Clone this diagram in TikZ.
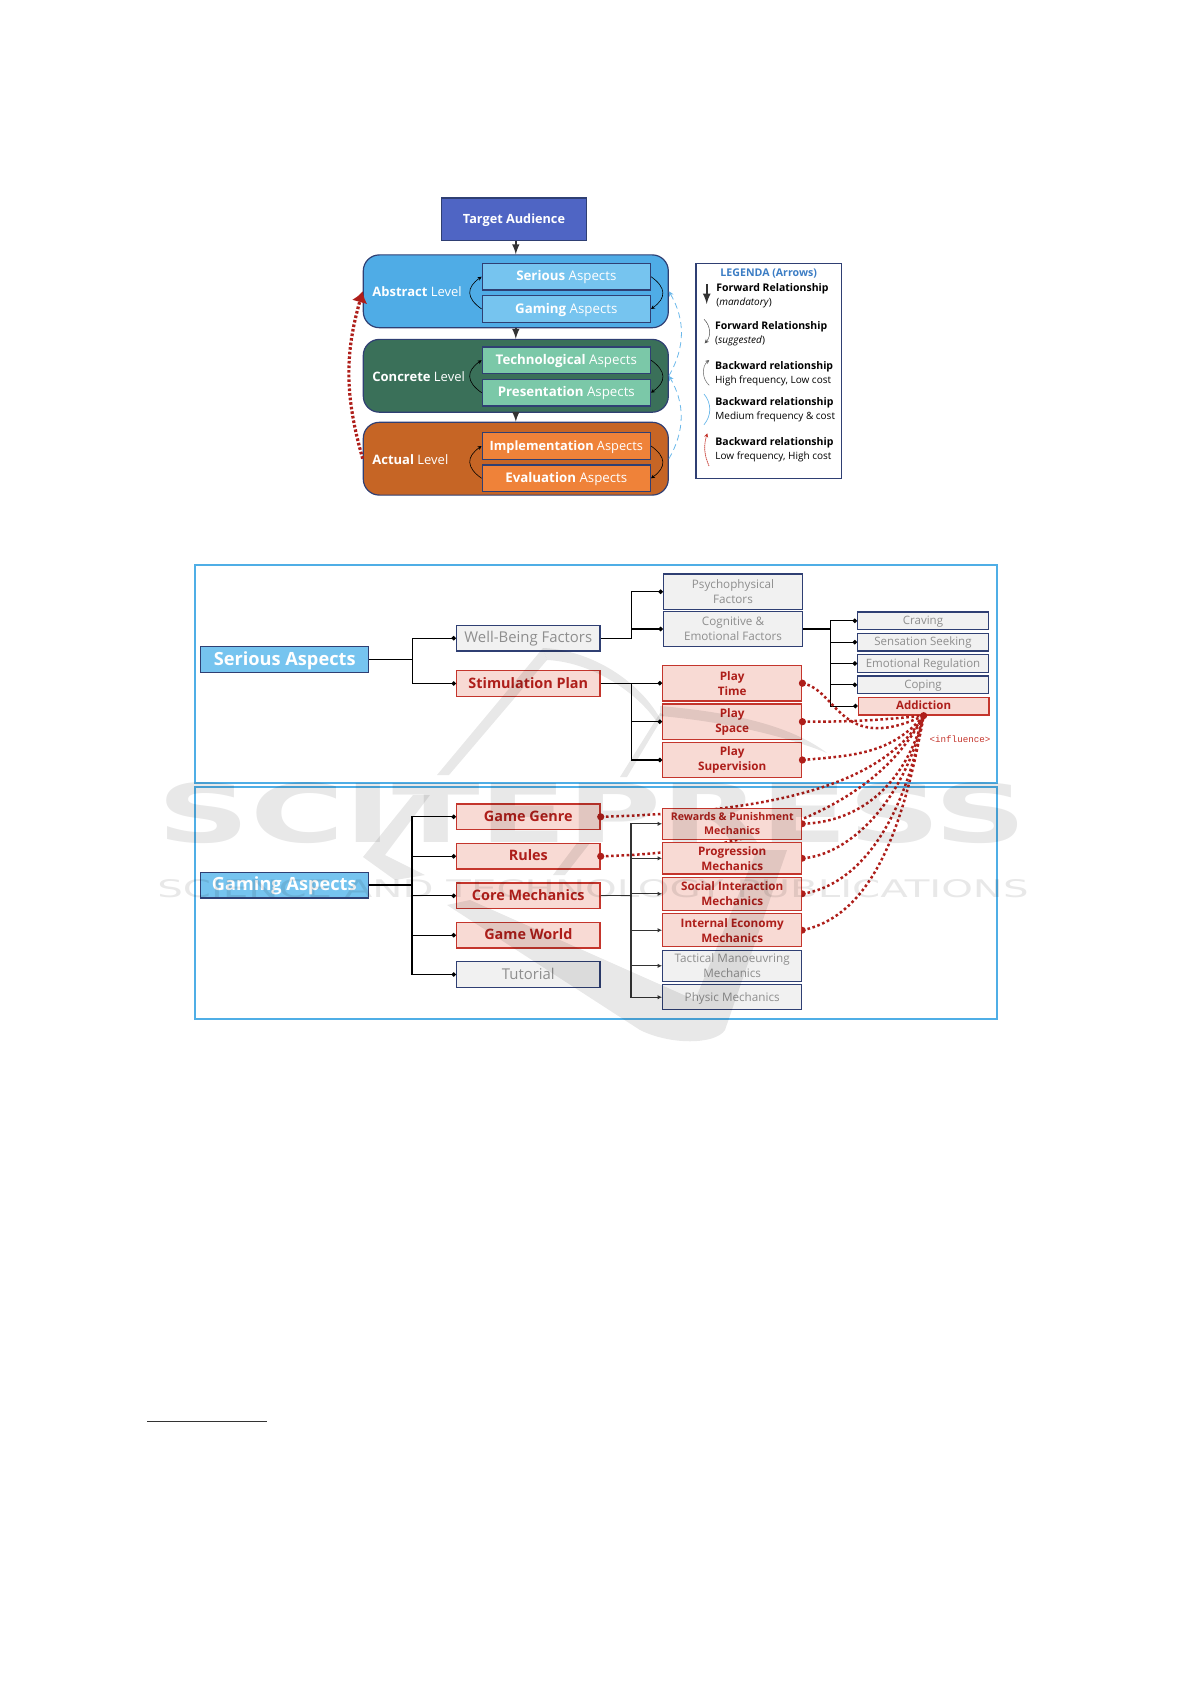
\documentclass[tikz,border=0pt]{standalone}
\usepackage{fontspec}
\setmainfont{Open Sans}
\setmonofont{Liberation Mono}
\newfontfamily\markfont{DejaVu Sans}
\usepackage{graphicx}
\usetikzlibrary{arrows.meta,backgrounds}

\definecolor{edgeBlue}{HTML}{2F3F73}
\definecolor{audFill}{HTML}{4F65C4}
\definecolor{absFill}{HTML}{4FACE6}
\definecolor{absSub}{HTML}{76C4EF}
\definecolor{conFill}{HTML}{3A7059}
\definecolor{conSub}{HTML}{7BC8A8}
\definecolor{actFill}{HTML}{C66525}
\definecolor{actSub}{HTML}{EF8239}
\definecolor{frameBlue}{HTML}{4FAEE6}
\definecolor{softBlue}{HTML}{6BB8EA}
\definecolor{legTitle}{HTML}{3C7DC4}
\definecolor{greyFill}{HTML}{F1F1F1}
\definecolor{greyText}{HTML}{8E8E8E}
\definecolor{redFill}{HTML}{F8DAD4}
\definecolor{redEdge}{HTML}{C4352C}
\definecolor{redText}{HTML}{AE1E1A}

\newcommand{\legBold}[1]{{\fontsize{5.25}{7}\selectfont\bfseries #1}}

\tikzset{
  levelBox/.style={draw=edgeBlue, line width=.6pt, rounded corners=8pt, minimum width=152.5pt, minimum height=36.4pt, inner sep=0pt},
  subBox/.style={draw=edgeBlue, line width=.7pt, minimum width=84pt, minimum height=13.3pt, inner sep=0pt, text=white, text height=5.6pt, text depth=1.4pt, font=\fontsize{6.65}{8}\selectfont},
  levelText/.style={anchor=west, inner sep=0pt, text=white, font=\fontsize{6.5}{8}\selectfont},
  legText/.style={anchor=west, inner sep=0pt, align=left, font=\fontsize{5}{7}\selectfont},
  headBox/.style={draw=edgeBlue, line width=.7pt, fill=absSub, minimum width=84pt, minimum height=12.8pt, inner sep=0pt, text=white, text height=7.6pt, text depth=1.9pt, font=\bfseries\fontsize{9.1}{11}\selectfont},
  greyBox/.style={draw=edgeBlue, line width=.7pt, fill=greyFill, inner sep=0pt, align=center, text=greyText},
  redBox/.style={draw=redEdge, line width=.7pt, fill=redFill, inner sep=0pt, align=center, text=redText},
  colTwo/.style={minimum width=71.7pt, minimum height=12.85pt, text height=6pt, text depth=1.5pt, font=\fontsize{7.2}{9}\selectfont},
  colThree/.style={minimum width=69.5pt, execute at begin node={\rule{0pt}{.95em}}, font=\fontsize{5.85}{7.5}\selectfont},
  colFour/.style={minimum width=65.3pt, minimum height=8.85pt, text height=4.8pt, text depth=1.2pt, font=\fontsize{5.75}{7}\selectfont},
  frameBox/.style={draw=frameBlue, line width=1pt, minimum width=400.7pt, inner sep=0pt},
  treeLine/.style={-{Circle[length=2.2pt]}, draw=black, line width=.6pt},
  mechLine/.style={-{Latex[length=2.2pt,width=2.2pt]}, draw=black!80, line width=.6pt},
  loopLine/.style={-{Stealth[length=2pt,width=2pt]}, draw=black, line width=.3pt, bend left=55, looseness=1.5},
  downLine/.style={->,>=latex, draw=black!80, line width=.7pt},
  backLine/.style={-{Stealth[length=2.5pt,width=2.5pt]}, softBlue, line width=.4pt, densely dashed, bend right=30},
  inflLine/.style={draw=redText, line width=1.25pt, dash pattern=on 1.3pt off 1.3pt},
  inflDot/.style={fill=redText},
  markShape/.style={fill=black, opacity=.09},
}

\begin{document}
\begin{tikzpicture}[x=0.5pt,y=-0.5pt]
\useasboundingbox (0,0) rectangle (1191,1684);

% Level diagram
\node [draw=edgeBlue, line width=.7pt, fill=audFill, minimum width=72.7pt, minimum height=21.2pt, inner sep=0pt, text=white, text height=5.4pt, text depth=1.35pt, font=\bfseries\fontsize{6.35}{7.5}\selectfont] (audBox) at (514,219.2) {Target Audience};

\node [levelBox, fill=absFill] (absBox) at (515.8,291.3) {};
\node [levelBox, fill=conFill] (conBox) at (515.8,375.8) {};
\node [levelBox, fill=actFill] (actBox) at (515.8,458.7) {};

\node [levelText] (absText) at (372,291.7) {\textbf{Abstract} Level};
\node [levelText] (conText) at (372,376.5) {\textbf{Concrete} Level};
\node [levelText] (actText) at (372,459.5) {\textbf{Actual} Level};

\node [subBox, fill=absSub] (serSub) at (566.3,276.7) {\textbf{Serious} Aspects};
\node [subBox, fill=absSub] (gamSub) at (566.3,309) {\textbf{Gaming} Aspects};
\node [subBox, fill=conSub] (tecSub) at (566.3,360.2) {\textbf{Technological} Aspects};
\node [subBox, fill=conSub] (preSub) at (566.3,392.7) {\textbf{Presentation} Aspects};
\node [subBox, fill=actSub, font=\fontsize{6.4}{8}\selectfont] (impSub) at (566.3,446) {\textbf{Implementation} Aspects};
\node [subBox, fill=actSub] (evaSub) at (566.3,478.3) {\textbf{Evaluation} Aspects};

\draw [downLine] (audBox.south -| absBox.north) -- (absBox.north);
\draw [downLine] (absBox.south) -- (conBox.north);
\draw [downLine] (conBox.south) -- (actBox.north);

% Small bends beside the aspects
\draw [loopLine] (gamSub.west) to (serSub.west);
\draw [loopLine] (serSub.east) to (gamSub.east);
\draw [loopLine] (preSub.west) to (tecSub.west);
\draw [loopLine] (tecSub.east) to (preSub.east);
\draw [loopLine] (evaSub.west) to (impSub.west);
\draw [loopLine] (impSub.east) to (evaSub.east);

% Backward arrows
\draw [backLine] (actBox.east) to (conBox.east);
\draw [backLine] (conBox.east) to (absBox.east);
\draw [-{Latex[length=5.5pt,width=8pt]}, redText, line width=1.6pt, dash pattern=on 1.3pt off 1pt] (actBox.west) to [bend left=16] (absBox.west);

% Legend
\node [draw=edgeBlue, line width=.6pt, minimum width=72.7pt, minimum height=107.5pt, inner sep=0pt] (legBox) at (768.7,370.8) {};
\node [inner sep=0pt, text=legTitle, font=\bfseries\fontsize{5.3}{7}\selectfont] (legHead) at (768.7,273.7) {LEGENDA (Arrows)};
\node [legText] (legOne) at (716,295.6) {\legBold{Forward Relationship}\\(\textit{mandatory})};
\node [legText] (legTwo) at (714.7,333.6) {\legBold{Forward Relationship}\\(\textit{suggested})};
\node [legText] (legThree) at (714.7,373.7) {\legBold{Backward relationship}\\High frequency, Low cost};
\node [legText] (legFour) at (715,409.7) {\legBold{Backward relationship}\\Medium frequency \& cost};
\node [legText] (legFive) at (715,449.9) {\legBold{Backward relationship}\\Low frequency, High cost};

\coordinate (oneTop) at (706.7,284);
\coordinate (oneEnd) at (706.7,304);
\coordinate (twoTop) at (704,319.3);
\coordinate (twoEnd) at (704.7,343.3);
\coordinate (threeTop) at (709.3,385.3);
\coordinate (threeEnd) at (709.3,360);
\coordinate (fourTop) at (704,394);
\coordinate (fourEnd) at (704,424.7);
\coordinate (fiveTop) at (709,466);
\coordinate (fiveEnd) at (707.3,433.3);
\draw [downLine, line width=.8pt] (oneTop) -- (oneEnd);
\draw [-{Stealth[length=2pt,width=2pt]}, black!70, line width=.25pt] (twoTop) to [bend left=45] (twoEnd);
\draw [-{Stealth[length=2pt,width=2pt]}, black!60, line width=.25pt] (threeTop) to [bend left=50] (threeEnd);
\draw [softBlue, line width=.35pt] (fourTop) to [bend left=40] (fourEnd);
\draw [-{Stealth[length=2pt,width=2pt]}, redEdge, line width=.35pt, dash pattern=on .7pt off .3pt] (fiveTop) to [bend left=20] (fiveEnd);

% Serious aspects tree
\node [headBox] (serBox) at (284.7,659.5) {Serious Aspects};
\node [greyBox, colTwo, font=\fontsize{7.45}{9}\selectfont] (wbBox) at (528.3,638.2) {Well-Being Factors};
\node [redBox, colTwo] (stimBox) at (528.3,683.5) {\textbf{Stimulation Plan}};
\node [greyBox, colThree, minimum height=17.65pt] (psyBox) at (733,591.7) {Psychophysical\\Factors};
\node [greyBox, colThree, minimum height=17.7pt] (cogBox) at (733,629) {Cognitive \&\\Emotional Factors};
\node [redBox, colThree, minimum height=17.6pt] (timeBox) at (732.2,683.2) {\textbf{Play}\\\textbf{Time}};
\node [redBox, colThree, minimum height=17.6pt] (spaceBox) at (732.2,721.7) {\textbf{Play}\\\textbf{Space}};
\node [redBox, colThree, minimum height=17.6pt] (supBox) at (732.2,760) {\textbf{Play}\\\textbf{Supervision}};
\node [greyBox, colFour] (cravBox) at (923,620.8) {Craving};
\node [greyBox, colFour] (sensBox) at (923,642.2) {Sensation Seeking};
\node [greyBox, colFour] (emoBox) at (923,663.5) {Emotional Regulation};
\node [greyBox, colFour] (copeBox) at (923,684.8) {Coping};
\node [redBox, colFour] (addBox) at (923.6,706.1) {\textbf{Addiction}};
\node [inner sep=0pt, text=redEdge, font=\ttfamily\fontsize{4.6}{6}\selectfont] (inflText) at (960,739.3) {<influence>};

% Gaming aspects tree
\node [headBox] (gamBox) at (284.3,885) {Gaming Aspects};
\node [redBox, colTwo] (genreBox) at (528.3,816.8) {\textbf{Game Genre}};
\node [redBox, colTwo] (rulesBox) at (528.3,856.3) {\textbf{Rules}};
\node [redBox, colTwo] (coreBox) at (528.3,895.8) {\textbf{Core Mechanics}};
\node [redBox, colTwo] (worldBox) at (528.3,935.2) {\textbf{Game World}};
\node [greyBox, colTwo, font=\fontsize{7.45}{9}\selectfont] (tutBox) at (528.3,974.5) {Tutorial};
\node [redBox, colThree, minimum height=15.5pt, font=\fontsize{5.3}{7}\selectfont] (rewBox) at (732.2,823.8) {\textbf{Rewards \& Punishment}\\\textbf{Mechanics}};
\node [redBox, colThree, minimum height=15.65pt] (progBox) at (732.2,858.3) {\textbf{Progression}\\\textbf{Mechanics}};
\node [redBox, colThree, minimum height=16.5pt] (socBox) at (732.2,893.8) {\textbf{Social Interaction}\\\textbf{Mechanics}};
\node [redBox, colThree, minimum height=16.5pt] (econBox) at (732.2,930.2) {\textbf{Internal Economy}\\\textbf{Mechanics}};
\node [greyBox, colThree, minimum height=15.5pt] (tactBox) at (732.2,965.8) {Tactical Manoeuvring\\Mechanics};
\node [greyBox, colThree, minimum height=12.5pt] (physBox) at (732.2,997.2) {Physic Mechanics};

% Trunks of the trees
\coordinate (serFork) at (412.3,659.5);
\coordinate (wbFork) at (631.7,638.2);
\coordinate (stimFork) at (631.3,683.5);
\coordinate (cogFork) at (830.7,629);
\coordinate (gamFork) at (412,885);
\coordinate (coreFork) at (631,895.8);

\draw [treeLine] (serBox.east) -- (serFork) |- (wbBox.west);
\draw [treeLine] (serFork) |- (stimBox.west);
\draw [treeLine] (wbBox.east) -- (wbFork) |- (psyBox.west);
\draw [treeLine] (wbFork) |- (cogBox.west);
\draw [treeLine] (stimBox.east) -- (stimFork) |- (timeBox.west);
\draw [treeLine] (stimFork) |- (spaceBox.west);
\draw [treeLine] (stimFork) |- (supBox.west);
\draw [treeLine] (cogBox.east) -- (cogFork) |- (cravBox.west);
\draw [treeLine] (cogFork) |- (sensBox.west);
\draw [treeLine] (cogFork) |- (emoBox.west);
\draw [treeLine] (cogFork) |- (copeBox.west);
\draw [treeLine] (cogFork) |- (addBox.west);

\draw [treeLine] (gamBox.east) -- (gamFork) |- (genreBox.west);
\draw [treeLine] (gamFork) |- (rulesBox.west);
\draw [treeLine] (gamFork) |- (coreBox.west);
\draw [treeLine] (gamFork) |- (worldBox.west);
\draw [treeLine] (gamFork) |- (tutBox.west);
\draw [mechLine] (coreBox.east) -- (coreFork) |- (rewBox.west);
\draw [mechLine] (coreFork) |- (progBox.west);
\draw [mechLine] (coreFork) |- (socBox.west);
\draw [mechLine] (coreFork) |- (econBox.west);
\draw [mechLine] (coreFork) |- (tactBox.west);
\draw [mechLine] (coreFork) |- (physBox.west);

% Frames and the lines that run behind the boxes
\begin{pgfonlayer}{background}
\node [frameBox, minimum height=109pt] (topFrame) at (596,673.7) {};
\node [frameBox, minimum height=116.3pt] (lowFrame) at (596,903) {};

\draw [inflLine] (genreBox.east) .. controls (760,812) and (880,790) .. (addBox.south);
\draw [inflLine] (rulesBox.east) .. controls (770,852) and (880,800) .. (addBox.south);
\draw [inflLine] (rewBox.east) .. controls (860,822) and (905,785) .. (addBox.south);
\draw [inflLine] (progBox.east) .. controls (850,855) and (905,800) .. (addBox.south);
\draw [inflLine] (socBox.east) .. controls (860,885) and (905,820) .. (addBox.south);
\draw [inflLine] (econBox.east) .. controls (875,915) and (905,820) .. (addBox.south);
\fill [inflDot] (rewBox.east) circle (1.7pt);
\fill [inflDot] (progBox.east) circle (1.7pt);
\fill [inflDot] (socBox.east) circle (1.7pt);
\fill [inflDot] (econBox.east) circle (1.7pt);
\end{pgfonlayer}

\draw [inflLine] (timeBox.east) .. controls (838,690) and (840,755) .. (addBox.south);
\draw [inflLine] (spaceBox.east) to [bend right=3] (addBox.south);
\draw [inflLine] (supBox.east) to [out=5,in=230] (addBox.south);

\fill [inflDot] (timeBox.east) circle (1.8pt);
\fill [inflDot] (spaceBox.east) circle (1.8pt);
\fill [inflDot] (supBox.east) circle (1.8pt);
\fill [inflDot] (genreBox.east) circle (1.8pt);
\fill [inflDot] (rulesBox.east) circle (1.8pt);
\fill [inflDot] (addBox.south) circle (1.8pt);

% Footnote rule
\coordinate (ruleStart) at (147.3,1421);
\coordinate (ruleEnd) at (266.7,1421);
\draw [black!80, line width=.4pt] (ruleStart) -- (ruleEnd);

% Publisher mark over everything
\node [opacity=.09, text=black, inner sep=0pt, font=\markfont\bfseries] (markBig) at (592.5,813.3) {\resizebox{434.7pt}{30pt}{SCITEPRESS}};
\node [opacity=.09, text=black, inner sep=0pt, font=\markfont] (markSub) at (593,889) {\resizebox{435.7pt}{9pt}{SCIENCE AND TECHNOLOGY PUBLICATIONS}};

\fill [markShape] (543,648) -- (437,775) -- (449,775) -- (547,660) -- cycle;
\fill [markShape] (543,648) .. controls (590,650) and (640,680) .. (662,722) -- (657,722) .. controls (635,690) and (590,662) .. (547,660) -- cycle;
\fill [markShape] (620,777) -- (660,713) -- (664,715) -- (627,777) -- cycle;
\fill [markShape] (660,706) .. controls (730,712) and (790,725) .. (827,753) .. controls (790,738) and (730,722) .. (660,716) -- cycle;
\fill [markShape] (363,857) -- (413,795) -- (430,795) -- (385,855) -- (425,875) -- (395,880) -- cycle;
\fill [markShape] (553,875) -- (565,875) -- (590,843) -- (577,843) -- cycle;
\fill [markShape] (447,905) -- (640,1030) .. controls (670,1045) and (715,1045) .. (725,1030) -- (787,850) -- (757,850) -- (695,1000) -- (470,900) -- cycle;

\end{tikzpicture}
\end{document}
